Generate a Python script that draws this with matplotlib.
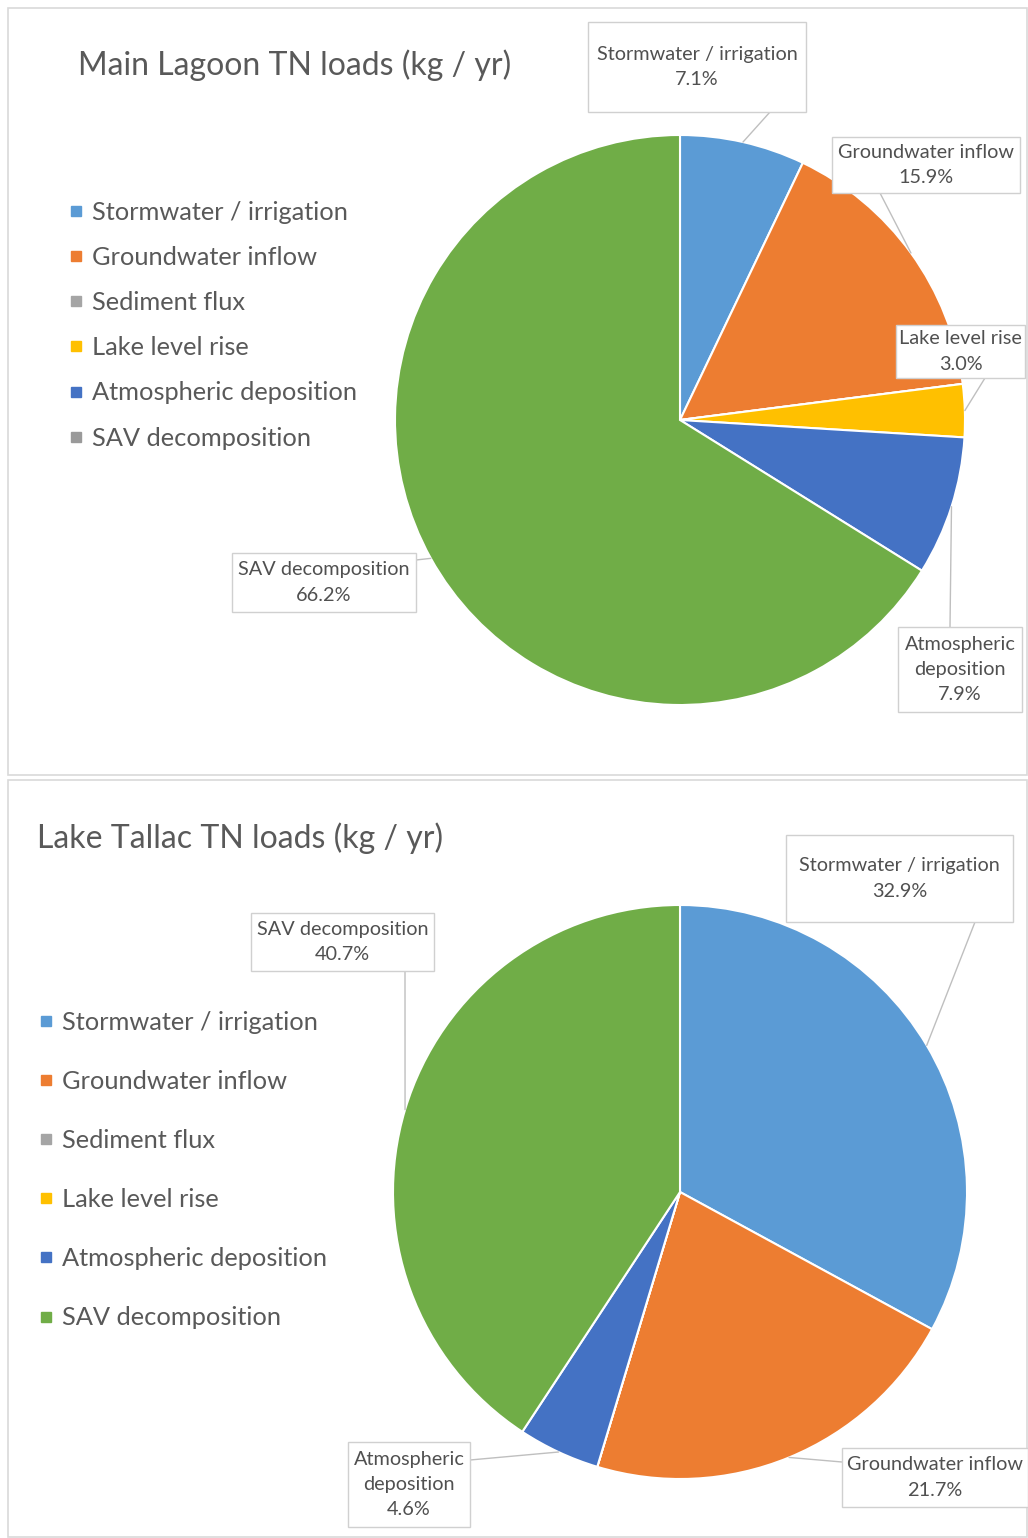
import matplotlib
matplotlib.use("Agg")
import matplotlib.pyplot as plt
from matplotlib.patches import Rectangle
from matplotlib.lines import Line2D
import numpy as np

plt.rcParams['font.family'] = ['Lato', 'DejaVu Sans']

# data
categories = ["Stormwater / irrigation", "Groundwater inflow", "Sediment flux",
              "Lake level rise", "Atmospheric deposition", "SAV decomposition"]
lagoon_pct = [7.1, 15.9, 0.0, 3.0, 7.9, 66.2]
tallac_pct = [32.9, 21.7, 0.0, 0.0, 4.6, 40.7]
lagoon_title = "Main Lagoon TN loads (kg / yr)"
tallac_title = "Lake Tallac TN loads (kg / yr)"

colors = ["#5B9BD5", "#ED7D31", "#A5A5A5", "#FFC000", "#4472C4", "#70AD47"]
lagoon_legend_colors = ["#5B9BD5", "#ED7D31", "#A5A5A5", "#FFC000", "#4472C4", "#9A9A9A"]

W, H = 1028, 1538
TEXT = "#595959"
LINE = "#BFBFBF"

fig = plt.figure(figsize=(W / 100, H / 100), dpi=100)


def frac(x0, y0, x1, y1):
    """pixel box (top-left origin) -> figure fraction rect"""
    return [x0 / W, 1 - y1 / H, (x1 - x0) / W, (y1 - y0) / H]


def panel(x0, y0, x1, y1):
    fig.patches.append(Rectangle((x0 / W, 1 - y1 / H), (x1 - x0) / W, (y1 - y0) / H,
                                 transform=fig.transFigure, fill=False,
                                 edgecolor="#D9D9D9", lw=1.2))


def draw_pie(center, radius, values, labels_layout, title, title_xy, leg_xy,
             leg_spacing, leg_colors):
    cx, cy = center
    ax = fig.add_axes(frac(cx - radius, cy - radius, cx + radius, cy + radius))
    wedges, _ = ax.pie(values, colors=colors, startangle=90, counterclock=False,
                       wedgeprops=dict(edgecolor="white", linewidth=1.5))
    ax.set_xlim(-1, 1)
    ax.set_ylim(-1, 1)
    ax.set_aspect("equal")

    # data labels with boxes and leader lines
    for idx, (x0, y0, x1, y1, ax_pt) in labels_layout.items():
        w = wedges[idx]
        mid = np.deg2rad((w.theta1 + w.theta2) / 2)
        fig.patches.append(Rectangle((x0 / W, 1 - y1 / H), (x1 - x0) / W, (y1 - y0) / H,
                                     transform=fig.transFigure, facecolor="white",
                                     edgecolor="#D0D0D0", lw=1.0, zorder=3))
        name = categories[idx]
        if name == "Atmospheric deposition":
            name = "Atmospheric\ndeposition"
        fig.text((x0 + x1) / 2 / W, 1 - (y0 + y1) / 2 / H,
                 f"{name}\n{values[idx]:.1f}%", ha="center", va="center",
                 fontsize=14.3, color="#505050", linespacing=1.6, zorder=4)
        ax.annotate("", xy=(np.cos(mid), np.sin(mid)), xycoords="data",
                    xytext=(ax_pt[0], H - ax_pt[1]), textcoords="figure pixels",
                    arrowprops=dict(arrowstyle="-", color=LINE, lw=1.0,
                                    shrinkA=0, shrinkB=0),
                    annotation_clip=False)

    fig.text(title_xy[0] / W, 1 - title_xy[1] / H, title, fontsize=23,
             color=TEXT, ha="left", va="center")

    handles = [Line2D([], [], marker="s", ls="", color=c, markersize=7) for c in leg_colors]
    fig.legend(handles, categories, loc="upper left",
               bbox_to_anchor=(leg_xy[0] / W, 1 - leg_xy[1] / H),
               frameon=False, fontsize=18.3, labelcolor=TEXT,
               handlelength=0.5, handletextpad=0.35, labelspacing=leg_spacing,
               borderpad=0, borderaxespad=0)
    return ax


panel(8, 8, 1027, 775)
panel(8, 780, 1027, 1537)

# top chart: label boxes (x0, y0, x1, y1, leader anchor)
lagoon_labels = {
    0: (588, 22, 806, 112, (770, 112)),
    1: (832, 137, 1020, 193, (880, 193)),
    3: (896, 325, 1025, 378, (985, 378)),
    4: (898, 627, 1022, 712, (950, 627)),
    5: (232, 553, 416, 612, (416, 560)),
}
draw_pie((680, 420), 285, lagoon_pct, lagoon_labels, lagoon_title,
         (78, 65), (70, 201), 0.87, lagoon_legend_colors)

tallac_labels = {
    0: (786, 835, 1013, 922, (975, 922)),
    1: (842, 1448, 1028, 1507, (842, 1462)),
    4: (348, 1442, 470, 1527, (470, 1460)),
    5: (251, 913, 434, 971, (405, 971)),
}
draw_pie((680, 1192), 287, tallac_pct, tallac_labels, tallac_title,
         (37, 838), (40, 1011), 1.42, colors)

fig.savefig("out.png", dpi=100, facecolor="white")
